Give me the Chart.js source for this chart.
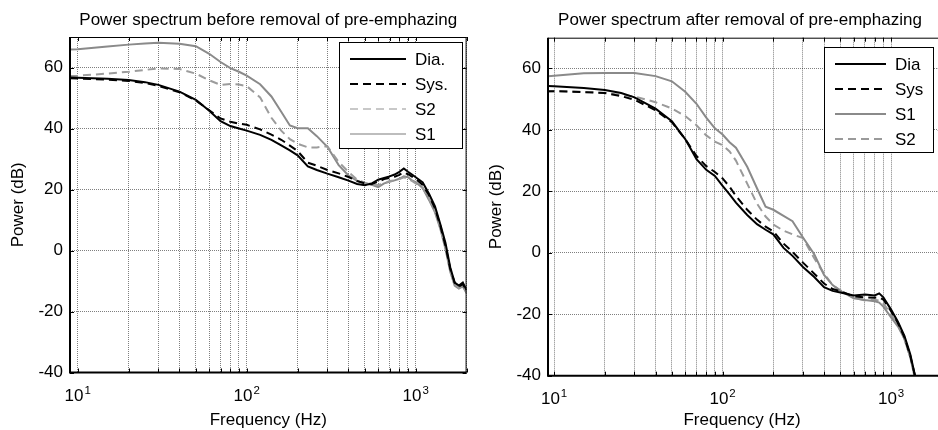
<!DOCTYPE html>
<html>
<head>
<meta charset="utf-8">
<script src="https://cdn.jsdelivr.net/npm/chart.js@4.4.1/dist/chart.umd.min.js"></script>
<style>
  html, body { margin: 0; padding: 0; background: #fff; overflow: hidden; }
  #wrap { position: relative; width: 938px; height: 430px; overflow: hidden; }
  canvas { position: absolute; top: 0; }
  #before { left: 0; }
  #after { left: 469px; }
</style>
</head>
<body>
<div id="wrap">
  <canvas id="before" width="469" height="430"></canvas>
  <canvas id="after" width="481" height="430"></canvas>
</div>
<script>
// ---- data: left panel (before removal of pre-emphazing)
const freqL = [9, 10, 15, 20, 25, 30, 40, 50, 60, 70, 80, 90, 100, 120, 140, 160, 180, 200, 230, 260, 300, 350, 400, 450, 500, 550, 600, 650, 700, 750, 800, 850, 900, 950, 1000, 1100, 1200, 1300, 1400, 1500, 1600, 1700, 1800, 1900, 2000];
const diaL = [56.7, 56.6, 56.3, 55.9, 55.2, 54.3, 52.1, 49.4, 45.8, 42.4, 40.8, 40.0, 39.3, 37.9, 36.3, 34.5, 32.8, 31.2, 27.6, 26.4, 25.2, 24.0, 22.9, 21.8, 21.4, 22.0, 23.2, 23.8, 24.3, 24.9, 25.8, 26.9, 25.8, 24.9, 24.0, 22.3, 18.5, 14.5, 8.5, 2.5, -5.5, -10.5, -11.5, -10.5, -13.0];
const sysL = [56.5, 56.4, 56.0, 55.6, 54.9, 54.0, 51.9, 49.2, 46.0, 43.3, 42.2, 41.6, 41.2, 39.7, 38.0, 36.3, 34.4, 32.6, 28.8, 27.8, 26.4, 25.3, 24.1, 22.8, 22.0, 21.8, 22.6, 23.4, 23.8, 24.2, 24.8, 25.6, 25.0, 24.2, 23.5, 21.5, 18.0, 13.8, 8.0, 1.5, -6.0, -10.5, -11.8, -11.0, -13.2];
const s2L = [57.2, 57.3, 58.0, 58.6, 59.2, 59.7, 59.5, 58.0, 55.8, 54.3, 54.6, 54.4, 53.9, 50.2, 43.5, 39.3, 36.5, 35.0, 33.8, 33.8, 34.2, 29.0, 25.8, 23.2, 22.2, 21.6, 21.5, 22.0, 22.8, 23.0, 23.4, 24.0, 23.5, 22.8, 22.0, 20.5, 17.0, 13.0, 7.5, 1.0, -6.5, -11.0, -12.2, -11.5, -13.8];
const s1L = [65.9, 66.0, 66.9, 67.5, 67.9, 68.1, 67.8, 67.0, 64.5, 61.8, 59.8, 58.6, 57.3, 54.5, 50.5, 45.5, 41.0, 40.1, 40.1, 37.5, 34.0, 28.0, 24.6, 22.8, 22.0, 21.5, 20.8, 22.0, 22.5, 23.0, 23.5, 24.3, 24.0, 23.0, 22.4, 20.5, 16.5, 12.5, 7.0, 0.5, -7.0, -11.5, -12.5, -11.8, -14.0];

// ---- data: right panel (after removal of pre-emphazing)
const freqR = [9, 10, 15, 20, 25, 30, 40, 50, 60, 70, 80, 90, 100, 110, 120, 140, 160, 180, 200, 230, 260, 300, 350, 400, 450, 500, 600, 700, 800, 850, 900, 1000, 1100, 1200, 1300, 1400];
const diaR = [54.3, 54.2, 53.6, 53.0, 52.0, 50.6, 46.9, 42.8, 37.0, 30.5, 27.0, 25.0, 21.8, 19.0, 16.3, 12.3, 9.3, 7.5, 6.0, 1.6, -1.0, -4.6, -7.9, -11.2, -12.4, -12.9, -13.9, -13.6, -13.9, -13.2, -14.5, -18.5, -22.5, -27.0, -33.0, -41.0];
const sysR = [52.6, 52.6, 52.3, 52.0, 51.0, 49.8, 46.4, 42.5, 37.0, 31.5, 28.2, 26.3, 24.2, 21.5, 18.5, 14.0, 10.8, 8.5, 7.0, 3.0, 0.3, -3.2, -6.8, -10.0, -11.8, -12.5, -14.2, -14.5, -14.6, -14.5, -15.2, -19.0, -23.0, -27.5, -33.5, -41.0];
const s1R = [57.4, 57.6, 58.4, 58.5, 58.5, 58.5, 57.5, 55.8, 52.4, 48.5, 44.0, 40.5, 38.5, 36.0, 34.2, 28.0, 21.0, 15.0, 14.0, 12.0, 10.3, 5.0, -0.5, -7.2, -10.5, -12.4, -14.8, -15.4, -15.8, -16.2, -17.5, -21.0, -24.0, -28.0, -34.0, -42.0];
const s2R = [52.5, 52.6, 52.4, 52.0, 51.4, 50.9, 49.0, 47.0, 44.5, 41.5, 38.2, 36.2, 35.0, 33.0, 30.0, 22.5, 16.0, 11.8, 9.2, 7.2, 6.0, 4.8, -1.8, -6.8, -10.5, -12.2, -14.5, -15.5, -15.3, -15.6, -16.5, -20.0, -23.5, -28.0, -34.0, -41.0];

// ---- axes
const xGrid = [10, 20, 30, 40, 50, 60, 70, 80, 90, 100, 200, 300, 400, 500, 600, 700, 800, 900, 1000, 2000];
const xLabelExp = [1, 2, 3];
const yTicks = [-40, -20, 0, 20, 40, 60];

const labelsL = ['Dia.', 'Sys.', 'S2', 'S1'];
const labelsR = ['Dia', 'Sys', 'S1', 'S2'];

const FONT = '"Liberation Sans", Arial, sans-serif';
const FS = 17;

const pts = (fx, fy) => fx.map((f, i) => ({ x: f, y: fy[i] }));

// box, inward ticks, labels, titles and legend in MATLAB style
const frame = {
    id: 'frame',
    afterDraw(chart, args, o) {
        const { ctx, chartArea: a, scales: { x, y } } = chart;
        ctx.save();
        ctx.strokeStyle = '#000';

        // inward tick marks
        ctx.lineWidth = 1;
        ctx.beginPath();
        x.ticks.forEach(t => {
            const px = Math.round(x.getPixelForValue(t.value)) + 0.5;
            ctx.moveTo(px, a.bottom); ctx.lineTo(px, a.bottom - 4);
            ctx.moveTo(px, a.top); ctx.lineTo(px, a.top + 4);
        });
        y.ticks.forEach(t => {
            const py = Math.round(y.getPixelForValue(t.value)) + 0.5;
            ctx.moveTo(a.left, py); ctx.lineTo(a.left + 4, py);
            ctx.moveTo(a.right, py); ctx.lineTo(a.right - 4, py);
        });
        ctx.stroke();

        // box
        ctx.beginPath();
        ctx.moveTo(a.left, a.top + 0.5); ctx.lineTo(a.right, a.top + 0.5);
        ctx.moveTo(a.right - 0.5, a.top); ctx.lineTo(a.right - 0.5, a.bottom);
        ctx.stroke();
        ctx.lineWidth = 2;
        ctx.beginPath();
        ctx.moveTo(a.left, a.top); ctx.lineTo(a.left, a.bottom); ctx.lineTo(a.right, a.bottom);
        ctx.stroke();

        ctx.fillStyle = '#000';
        // y tick labels
        ctx.font = FS + 'px ' + FONT;
        ctx.textAlign = 'right';
        ctx.textBaseline = 'middle';
        y.ticks.forEach(t => ctx.fillText(String(t.value), a.left - 7, y.getPixelForValue(t.value)));

        // x tick labels 10^n
        ctx.textAlign = 'left';
        ctx.textBaseline = 'alphabetic';
        xLabelExp.forEach(e => {
            const px = x.getPixelForValue(Math.pow(10, e));
            ctx.font = FS + 'px ' + FONT;
            const wb = ctx.measureText('10').width;
            ctx.font = '11.5px ' + FONT;
            const we = ctx.measureText(String(e)).width;
            const x0 = px - (wb + we + 1) / 2;
            ctx.font = FS + 'px ' + FONT;
            ctx.fillText('10', x0, a.bottom + 28);
            ctx.font = '11.5px ' + FONT;
            ctx.fillText(String(e), x0 + wb + 1, a.bottom + 21);
        });

        // titles
        const cx = (a.left + a.right) / 2;
        ctx.font = FS + 'px ' + FONT;
        ctx.textAlign = 'center';
        ctx.fillText(o.title, o.titleX || cx, 25);
        ctx.fillText('Frequency (Hz)', o.xTitleX || cx, 425);
        ctx.save();
        ctx.translate(a.left - 52, (a.top + a.bottom) / 2);
        ctx.rotate(-Math.PI / 2);
        ctx.textBaseline = 'middle';
        ctx.fillText('Power (dB)', 0, 0);
        ctx.restore();

        // legend
        const L = o.legend;
        ctx.fillStyle = '#fff';
        ctx.fillRect(L.x, L.y, L.w, L.h);
        ctx.lineWidth = 1;
        ctx.strokeStyle = '#000';
        ctx.strokeRect(L.x + 0.5, L.y + 0.5, L.w - 1, L.h - 1);
        L.labels.forEach((lab, i) => {
            const ry = L.y + 17 + i * 25;
            ctx.beginPath();
            ctx.setLineDash(L.dash[i]);
            ctx.strokeStyle = L.colors[i];
            ctx.lineWidth = 2;
            ctx.moveTo(L.x + 11, ry); ctx.lineTo(L.x + L.line, ry);
            ctx.stroke();
            ctx.setLineDash([]);
            ctx.fillStyle = '#000';
            ctx.textAlign = 'left';
            ctx.textBaseline = 'middle';
            ctx.fillText(lab, L.x + L.line + 9, ry + 1);
        });
        ctx.restore();
    }
};

const DASH = [8, 5];

const makeChart = (id, datasets, xMin, padding, frameOpts) => new Chart(document.getElementById(id), {
    type: 'line',
    data: { datasets },
    options: {
        responsive: false,
        animation: false,
        layout: { padding },
        plugins: { legend: { display: false }, title: { display: false }, tooltip: { enabled: false }, frame: frameOpts },
        elements: { point: { radius: 0 }, line: { tension: 0, borderWidth: 2 } },
        scales: {
            x: {
                type: 'logarithmic', min: xMin, max: 2000,
                afterBuildTicks: s => { s.ticks = xGrid.map(v => ({ value: v })); },
                afterFit: s => { s.height = 0; },
                ticks: { display: false },
                grid: { color: 'rgba(0,0,0,0.5)', lineWidth: 1, drawTicks: false },
                border: { display: false, dash: [1, 1] }
            },
            y: {
                type: 'linear', min: -40, max: 70,
                afterBuildTicks: s => { s.ticks = yTicks.map(v => ({ value: v })); },
                afterFit: s => { s.width = 0; },
                ticks: { display: false },
                grid: { color: 'rgba(0,0,0,0.5)', lineWidth: 1, drawTicks: false },
                border: { display: false, dash: [1, 1] }
            }
        }
    },
    plugins: [frame]
});

makeChart('before', [
    { label: labelsL[0], data: pts(freqL, diaL), borderColor: '#000' },
    { label: labelsL[1], data: pts(freqL, sysL), borderColor: '#000', borderDash: DASH },
    { label: labelsL[2], data: pts(freqL, s2L), borderColor: '#9c9c9c', borderDash: DASH },
    { label: labelsL[3], data: pts(freqL, s1L), borderColor: '#8a8a8a' }
], 9, { left: 70, right: 2.4, top: 37, bottom: 57.5 }, {
    title: 'Power spectrum before removal of pre-emphazing',
    legend: {
        x: 339, y: 42, w: 124, h: 107, line: 67, labels: labelsL,
        colors: ['#000', '#000', '#c8c8c8', '#bdbdbd'],
        dash: [[], DASH, DASH, []]
    }
});

makeChart('after', [
    { label: labelsR[0], data: pts(freqR, diaR), borderColor: '#000' },
    { label: labelsR[1], data: pts(freqR, sysR), borderColor: '#000', borderDash: DASH },
    { label: labelsR[2], data: pts(freqR, s1R), borderColor: '#8a8a8a' },
    { label: labelsR[3], data: pts(freqR, s2R), borderColor: '#9a9a9a', borderDash: DASH }
], 9.2, { left: 79, right: 8.2, top: 37.7, bottom: 54.3 }, {
    title: 'Power spectrum after removal of pre-emphazing',
    titleX: 271, xTitleX: 273,
    legend: {
        x: 355, y: 47, w: 110, h: 106, line: 62, labels: labelsR,
        colors: ['#000', '#000', '#8a8a8a', '#9a9a9a'],
        dash: [[], DASH, [], DASH]
    }
});
</script>
</body>
</html>
